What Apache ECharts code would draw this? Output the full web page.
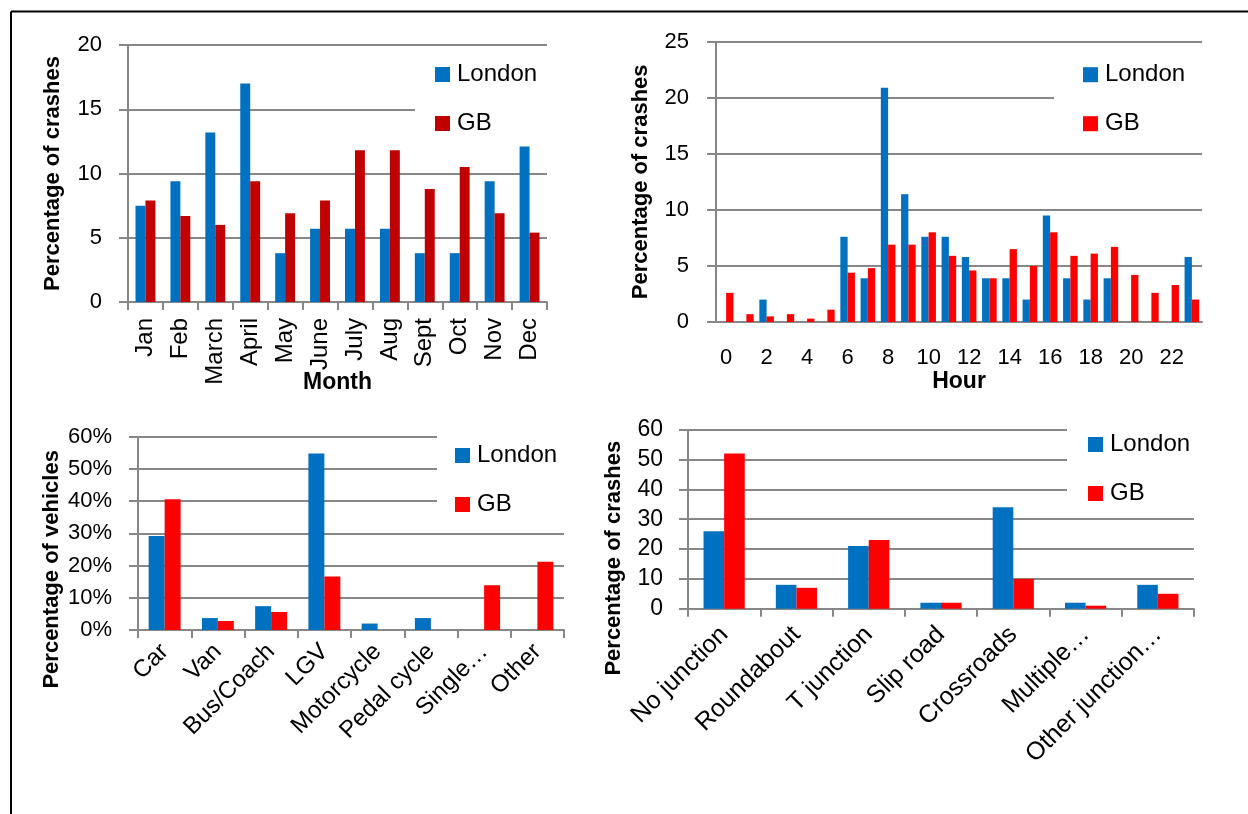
<!DOCTYPE html>
<html>
<head>
<meta charset="utf-8">
<script src="https://cdn.jsdelivr.net/npm/echarts@6/dist/echarts.min.js"></script>
<style>
html,body{margin:0;padding:0;background:#fff;}
#c{width:1248px;height:814px;}
</style>
</head>
<body>
<div id="c"></div>
<script>
// ---- data ----
const months = ['Jan','Feb','March','April','May','June','July','Aug','Sept','Oct','Nov','Dec'];
const monthLondon = [7.5, 9.4, 13.2, 17.0, 3.8, 5.7, 5.7, 5.7, 3.8, 3.8, 9.4, 12.1];
const monthGB = [7.9, 6.7, 6.0, 9.4, 6.9, 7.9, 11.8, 11.8, 8.8, 10.5, 6.9, 5.4];

const hours = ['0','1','2','3','4','5','6','7','8','9','10','11','12','13','14','15','16','17','18','19','20','21','22','23'];
const hourLondon = [0, 0, 2.0, 0, 0, 0, 7.6, 3.9, 20.9, 11.4, 7.6, 7.6, 5.8, 3.9, 3.9, 2.0, 9.5, 3.9, 2.0, 3.9, 0, 0, 0, 5.8];
const hourGB = [2.6, 0.7, 0.5, 0.7, 0.3, 1.1, 4.4, 4.8, 6.9, 6.9, 8.0, 5.9, 4.6, 3.9, 6.5, 5.0, 8.0, 5.9, 6.1, 6.7, 4.2, 2.6, 3.3, 2.0];

const vehicles = ['Car','Van','Bus/Coach','LGV','Motorcycle','Pedal cycle','Single\u2026','Other'];
const vehLondon = [29.2, 3.7, 7.4, 54.8, 2.0, 3.7, 0, 0];
const vehGB = [40.6, 2.8, 5.6, 16.6, 0, 0, 13.9, 21.2];

const junctions = ['No junction','Roundabout','T junction','Slip road','Crossroads','Multiple\u2026','Other junction\u2026'];
const juncLondon = [26, 8, 21, 2, 34, 2, 8];
const juncGB = [52, 7, 23, 2, 10, 1, 5];

const seriesNames = ['London', 'GB'];
const yTitles = ['Percentage of crashes', 'Percentage of crashes', 'Percentage of vehicles', 'Percentage of crashes'];
const xTitles = ['Month', 'Hour', '', ''];

// ---- styles ----
const FONT = 'Liberation Sans';
const GRAY = '#878787';
const BLUE = '#0070C0';
const DARKRED = '#C00000';
const RED = '#FF0000';

const grids = [
  {left: 128, top: 45, width: 419, height: 257},
  {left: 716, top: 41.7, width: 486, height: 280.3},
  {left: 138, top: 436.7, width: 426, height: 193.3},
  {left: 688, top: 429.7, width: 506, height: 179}
].map(g => Object.assign({outerBoundsMode: 'none', containLabel: false}, g));

function xAxis(i, data, opts) {
  return {
    type: 'category', gridIndex: i, data: data,
    axisLine: {show: true, lineStyle: {color: GRAY, width: 2}},
    axisTick: {show: opts.tick, length: 8, interval: 0, lineStyle: {color: GRAY, width: 2}},
    axisLabel: {interval: opts.interval, rotate: opts.rotate, fontSize: opts.fontSize, color: '#000', margin: opts.margin, fontFamily: FONT},
    name: xTitles[i], nameLocation: 'middle', nameGap: opts.nameGap || 0, nameMoveOverlap: false,
    nameTextStyle: {fontSize: 23, fontWeight: 'bold', color: '#000', fontFamily: FONT},
    splitLine: {show: false}
  };
}
function yAxis(i, max, interval, fmt, opts) {
  return {
    type: 'value', gridIndex: i, min: 0, max: max, interval: interval,
    axisLine: {show: true, lineStyle: {color: GRAY, width: 2}},
    axisTick: {show: true, length: 9, lineStyle: {color: GRAY, width: 2}},
    splitLine: {show: true, lineStyle: {color: GRAY, width: 2}},
    axisLabel: {fontSize: opts.fontSize, color: '#000', margin: opts.margin, formatter: fmt, fontFamily: FONT},
    name: yTitles[i], nameLocation: 'middle', nameGap: opts.nameGap, nameMoveOverlap: false,
    nameTextStyle: {fontSize: 22, fontWeight: 'bold', color: '#000', fontFamily: FONT, padding: [0, opts.shift || 0, 0, 0]}
  };
}
function legend(left, top, padTop, padLeft, gbColor) {
  return {
    orient: 'vertical', left: left, top: top, selectedMode: false,
    backgroundColor: '#fff', padding: [padTop, 30, 6, padLeft],
    itemWidth: 15, itemHeight: 15, itemGap: 21, icon: 'rect',
    textStyle: {fontSize: 24, lineHeight: 28, color: '#000', fontFamily: FONT, padding: [0, 0, 0, 2]},
    data: [
      {name: seriesNames[0], itemStyle: {color: BLUE}},
      {name: seriesNames[1], itemStyle: {color: gbColor}}
    ]
  };
}
function bars(i, london, gb, gbColor, gap) {
  return [
    {type: 'bar', name: seriesNames[0], xAxisIndex: i, yAxisIndex: i, data: london,
     itemStyle: {color: BLUE}, barGap: '0%', barCategoryGap: gap, animation: false},
    {type: 'bar', name: seriesNames[1], xAxisIndex: i, yAxisIndex: i, data: gb,
     itemStyle: {color: gbColor}, barGap: '0%', barCategoryGap: gap, animation: false}
  ];
}

const chart = echarts.init(document.getElementById('c'), null, {renderer: 'canvas'});
chart.setOption({
  animation: false,
  textStyle: {fontFamily: FONT},
  grid: grids,
  xAxis: [
    xAxis(0, months, {tick: true, interval: 0, rotate: 90, fontSize: 24, margin: 16, nameGap: 69}),
    xAxis(1, hours, {tick: false, interval: 1, rotate: 0, fontSize: 22, margin: 25, nameGap: 48}),
    xAxis(2, vehicles, {tick: true, interval: 0, rotate: 45, fontSize: 24, margin: 18}),
    xAxis(3, junctions, {tick: true, interval: 0, rotate: 45, fontSize: 25, margin: 22})
  ],
  yAxis: [
    yAxis(0, 20, 5, '{value}', {fontSize: 22, margin: 26, nameGap: 64}),
    yAxis(1, 25, 5, '{value}', {fontSize: 22, margin: 27, nameGap: 64}),
    yAxis(2, 60, 10, '{value}%', {fontSize: 22, margin: 26, nameGap: 75, shift: 72}),
    yAxis(3, 60, 10, '{value}', {fontSize: 23, margin: 25, nameGap: 63, shift: 78})
  ],
  legend: [
    legend(415, 54.5, 6, 20, DARKRED),
    legend(1054, 54.7, 6, 29, RED),
    legend(437, 433.5, 8, 18, RED),
    legend(1067, 426.5, 4, 21, RED)
  ],
  series: [].concat(
    bars(0, monthLondon, monthGB, DARKRED, '43%'),
    bars(1, hourLondon, hourGB, RED, '28%'),
    bars(2, vehLondon, vehGB, RED, '40%'),
    bars(3, juncLondon, juncGB, RED, '43%')
  ),
  graphic: [
    {type: 'line', shape: {x1: 11, y1: 11.5, x2: 1248, y2: 11.5}, style: {stroke: '#000', lineWidth: 2}, z: 10},
    {type: 'line', shape: {x1: 11, y1: 11.5, x2: 11, y2: 814}, style: {stroke: '#000', lineWidth: 2}, z: 10}
  ]
});
</script>
</body>
</html>
